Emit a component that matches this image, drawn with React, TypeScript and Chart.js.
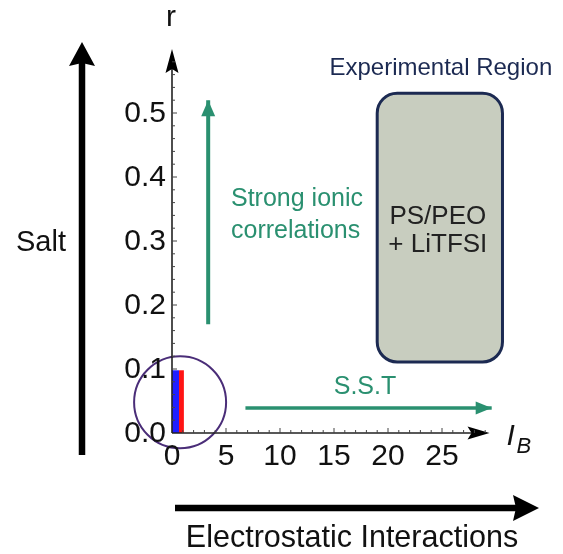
import React, { useEffect, useRef } from "react";
import { Chart, registerables } from "chart.js";

Chart.register(...registerables);

// ---- data ----
const xTickValues = [0, 5, 10, 15, 20, 25];
const xTickLabels = ["0", "5", "10", "15", "20", "25"];
const yTickValues = [0, 0.1, 0.2, 0.3, 0.4, 0.5];
const yTickLabels = ["0.0", "0.1", "0.2", "0.3", "0.4", "0.5"];
const xAxisEnd = 29.4;
const yAxisEnd = 0.6;

const barNames = ["blue", "red"];
const barStart = [0, 0.65];
const barEnd = [0.65, 1.1];
const barR = [0.098, 0.098];
const barColors = ["#1f1fff", "#ff1414"];

const circleLB = [0.75];
const circleR = [0.048];

const ionicLB = 3.35;
const ionicR = [0.17, 0.52];
const sstLB = [6.8, 29.6];
const sstR = 0.039;

const expLB = [19.0, 30.6];
const expR = [0.111, 0.531];

const GREEN = "#2a9070";
const NAVY = "#1c2a52";
const FONT = "'Liberation Sans', Arial, Helvetica, sans-serif";

function arrowHead(
  ctx: CanvasRenderingContext2D,
  tipX: number,
  tipY: number,
  dirX: number,
  dirY: number,
  len: number,
  half: number,
  color: string,
  notch = 0
) {
  const bx = tipX - dirX * len;
  const by = tipY - dirY * len;
  const px = -dirY;
  const py = dirX;
  ctx.save();
  ctx.fillStyle = color;
  ctx.beginPath();
  ctx.moveTo(tipX, tipY);
  ctx.lineTo(bx + px * half, by + py * half);
  ctx.lineTo(bx + dirX * notch, by + dirY * notch);
  ctx.lineTo(bx - px * half, by - py * half);
  ctx.closePath();
  ctx.fill();
  ctx.restore();
}

const decorPlugin = {
  id: "decor",
  beforeDatasetsDraw(chart: any) {
    const ctx: CanvasRenderingContext2D = chart.ctx;
    const xs = chart.scales.x;
    const ys = chart.scales.y;
    // experimental region box
    const x0 = xs.getPixelForValue(expLB[0]);
    const x1 = xs.getPixelForValue(expLB[1]);
    const y0 = ys.getPixelForValue(expR[1]);
    const y1 = ys.getPixelForValue(expR[0]);
    ctx.save();
    ctx.beginPath();
    (ctx as any).roundRect(x0, y0, x1 - x0, y1 - y0, 20);
    ctx.fillStyle = "#c8cdbf";
    ctx.fill();
    ctx.lineWidth = 3;
    ctx.strokeStyle = NAVY;
    ctx.stroke();
    const cx = (x0 + x1) / 2;
    ctx.fillStyle = "#222222";
    ctx.font = `26px ${FONT}`;
    ctx.textAlign = "center";
    ctx.textBaseline = "middle";
    ctx.fillText("PS/PEO", cx - 2, 217);
    ctx.fillText("+ LiTFSI", cx - 2, 245);
    ctx.fillStyle = NAVY;
    ctx.font = `24px ${FONT}`;
    ctx.fillText("Experimental Region", cx + 1, 68);
    ctx.restore();
  },
  afterDatasetsDraw(chart: any) {
    const ctx: CanvasRenderingContext2D = chart.ctx;
    const xs = chart.scales.x;
    const ys = chart.scales.y;
    const ox = xs.getPixelForValue(0);
    const oy = ys.getPixelForValue(0);
    const xTip = xs.getPixelForValue(xAxisEnd);
    const yTip = ys.getPixelForValue(yAxisEnd);
    ctx.save();
    // axes
    ctx.strokeStyle = "#222";
    ctx.lineWidth = 1.6;
    ctx.beginPath();
    ctx.moveTo(ox, oy);
    ctx.lineTo(ox, yTip + 10);
    ctx.moveTo(ox, oy);
    ctx.lineTo(xTip - 10, oy);
    ctx.stroke();
    arrowHead(ctx, ox, yTip, 0, -1, 24, 6.5, "#000", 4);
    arrowHead(ctx, xTip, oy, 1, 0, 22, 6.5, "#000", 4);
    // minor/major ticks
    ctx.lineWidth = 1;
    ctx.strokeStyle = "#444";
    ctx.beginPath();
    for (let i = 1; i <= 29; i++) {
      const px = xs.getPixelForValue(i);
      const l = i % 5 === 0 ? 5 : 3;
      ctx.moveTo(px, oy);
      ctx.lineTo(px, oy - l);
    }
    for (let i = 1; i <= 29; i++) {
      const py = ys.getPixelForValue(i * 0.02);
      const l = i % 5 === 0 ? 5 : 3;
      ctx.moveTo(ox, py);
      ctx.lineTo(ox + l, py);
    }
    ctx.stroke();
    // tick labels
    ctx.fillStyle = "#111";
    ctx.font = `30px ${FONT}`;
    ctx.textBaseline = "middle";
    ctx.textAlign = "right";
    yTickValues.forEach((v, i) => {
      ctx.fillText(yTickLabels[i], ox - 6, ys.getPixelForValue(v) + 1);
    });
    ctx.textAlign = "center";
    xTickValues.forEach((v, i) => {
      ctx.fillText(xTickLabels[i], xs.getPixelForValue(v), oy + 24);
    });
    // axis titles
    ctx.font = `30px ${FONT}`;
    ctx.fillText("r", ox - 1, 18);
    ctx.textAlign = "left";
    ctx.textBaseline = "alphabetic";
    ctx.font = `italic 30px ${FONT}`;
    ctx.fillText("I", xTip + 17, oy + 12);
    ctx.font = `italic 22px ${FONT}`;
    ctx.fillText("B", xTip + 27, oy + 20);

    // green arrow heads
    arrowHead(
      ctx,
      xs.getPixelForValue(ionicLB),
      ys.getPixelForValue(ionicR[1]),
      0,
      -1,
      16,
      7,
      GREEN
    );
    arrowHead(
      ctx,
      xs.getPixelForValue(sstLB[1]),
      ys.getPixelForValue(sstR),
      1,
      0,
      16,
      6.5,
      GREEN
    );
    // green labels
    ctx.fillStyle = GREEN;
    ctx.font = `25px ${FONT}`;
    ctx.textAlign = "left";
    ctx.textBaseline = "middle";
    ctx.fillText("Strong ionic", 231, 199);
    ctx.fillText("correlations", 231, 231);
    ctx.textAlign = "center";
    ctx.fillText("S.S.T", 365, 387);

    // big Salt arrow
    const saltX = ox - 90;
    ctx.strokeStyle = "#000";
    ctx.lineWidth = 6.5;
    ctx.beginPath();
    ctx.moveTo(saltX, oy + 22);
    ctx.lineTo(saltX, 60);
    ctx.stroke();
    arrowHead(ctx, saltX, 42, 0, -1, 24, 13, "#000", 3);
    ctx.fillStyle = "#111";
    ctx.font = `29px ${FONT}`;
    ctx.textAlign = "center";
    ctx.fillText("Salt", 41, 243);

    // big Electrostatic arrow
    const ey = 508;
    ctx.beginPath();
    ctx.moveTo(ox + 3, ey);
    ctx.lineTo(520, ey);
    ctx.stroke();
    arrowHead(ctx, 539, ey, 1, 0, 26, 13, "#000", 3);
    ctx.fillStyle = "#111";
    ctx.font = `30.5px ${FONT}`;
    ctx.fillText("Electrostatic Interactions", 352, 539);
    ctx.restore();
  },
};

export default function App() {
  const ref = useRef<HTMLCanvasElement | null>(null);
  useEffect(() => {
    if (!ref.current) return;
    const barDatasets = barNames.map((name, i) => ({
      type: "line" as const,
      label: name,
      data: [
        { x: barStart[i], y: barR[i] },
        { x: barEnd[i], y: barR[i] },
      ],
      fill: "origin",
      backgroundColor: barColors[i],
      borderColor: barColors[i],
      borderWidth: 0,
      pointRadius: 0,
    }));
    const chart = new Chart(ref.current, {
      type: "scatter",
      data: {
        datasets: [
          ...barDatasets,
          {
            type: "scatter",
            label: "circle",
            data: circleLB.map((x, i) => ({ x, y: circleR[i] })),
            pointRadius: 46,
            pointHoverRadius: 46,
            backgroundColor: "rgba(0,0,0,0)",
            borderColor: "#4a2d78",
            borderWidth: 2,
            clip: false,
          },
          {
            type: "line",
            label: "ionic",
            data: ionicR.map((r) => ({ x: ionicLB, y: r })),
            borderColor: GREEN,
            borderWidth: 4,
            pointRadius: 0,
            fill: false,
            clip: false,
          },
          {
            type: "line",
            label: "sst",
            data: sstLB.map((x) => ({ x, y: sstR })),
            borderColor: GREEN,
            borderWidth: 3.5,
            pointRadius: 0,
            fill: false,
            clip: false,
          },
        ] as any,
      },
      options: {
        responsive: false,
        animation: false,
        events: [],
        layout: { padding: { left: 172, top: 49, right: 67, bottom: 121 } },
        scales: {
          x: { type: "linear", min: 0, max: 30, display: false },
          y: { type: "linear", min: 0, max: 0.6, display: false },
        },
        plugins: { legend: { display: false }, tooltip: { enabled: false } },
      },
      plugins: [decorPlugin],
    });
    return () => chart.destroy();
  }, []);
  return (
    <div style={{ position: "absolute", left: 0, top: 0, background: "#fff" }}>
      <canvas ref={ref} width={563} height={554} style={{ display: "block" }} />
    </div>
  );
}
